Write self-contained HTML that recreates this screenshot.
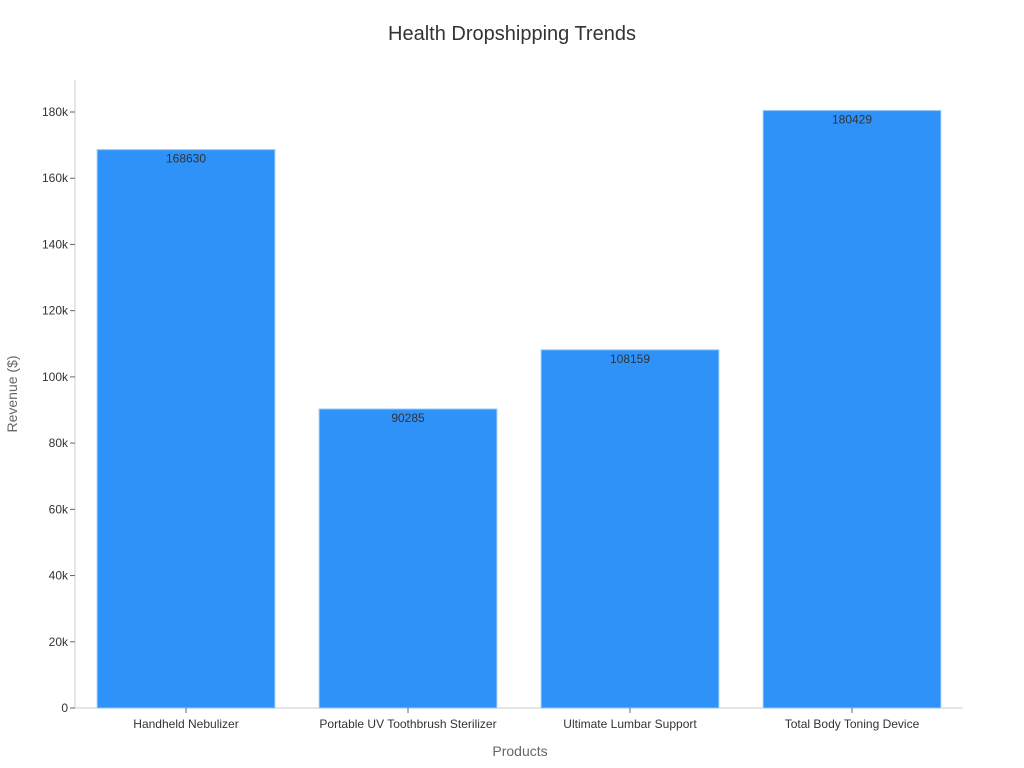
<!DOCTYPE html>
<html><head><meta charset="utf-8"><style>
html,body{margin:0;padding:0;background:#fff;}
svg{display:block;font-family:"Liberation Sans","DejaVu Sans",sans-serif;}
</style></head><body>
<svg id="chart" width="1024" height="768">
<text x="512" y="40" text-anchor="middle" font-size="20" fill="#333">Health Dropshipping Trends</text>
<text x="520" y="756" text-anchor="middle" font-size="14" fill="#666">Products</text>
<text x="17" y="394" text-anchor="middle" font-size="14" fill="#666" transform="rotate(-90 17 394)">Revenue ($)</text>
<g id="plot"></g>
</svg>
<script>
const categories=["Handheld Nebulizer","Portable UV Toothbrush Sterilizer","Ultimate Lumbar Support","Total Body Toning Device"];
const revenue=[168630,90285,108159,180429];
const yTicks=[0,20000,40000,60000,80000,100000,120000,140000,160000,180000];
const yTickLabels=["0","20k","40k","60k","80k","100k","120k","140k","160k","180k"];

const L=75,R=963,B=708,T=80;
const yScale=v=>B-v*(708-112)/180000;
const band=(R-L)/categories.length;
const xScale=i=>L+band*i;
const ns="http://www.w3.org/2000/svg";
const g=document.getElementById("plot");
function mk(tag,attrs){const e=document.createElementNS(ns,tag);for(const k in attrs)e.setAttribute(k,attrs[k]);g.appendChild(e);return e;}

let ax=mk("line",{x1:L,y1:T,x2:L,y2:B,stroke:"#ccc"});


let bx=mk("line",{x1:L,y1:B,x2:R,y2:B,stroke:"#ccc"});



yTicks.forEach((v,i)=>{
  const y=yScale(v);
  const t=mk("line",{x1:L-5,y1:y,x2:L,y2:y,stroke:"#666"});
  
  
  const lb=mk("text",{x:L-7,y:y+4,"text-anchor":"end","font-size":12,fill:"#333"});
  lb.textContent=yTickLabels[i];
  
  
});

categories.forEach((c,i)=>{
  const x0=xScale(i)+band*0.1,w=band*0.8,cx=xScale(i)+band/2;
  const y=yScale(revenue[i]);
  const r=mk("rect",{x:x0,y:y,width:w,height:B-y,fill:"#2f92f8",stroke:"#8cc4fb","stroke-width":1});
  
  
  const v=mk("text",{x:cx,y:y+13,"text-anchor":"middle","font-size":12,fill:"#333"});
  v.textContent=String(revenue[i]);
  
  
  const t=mk("line",{x1:cx,y1:B,x2:cx,y2:B+5,stroke:"#666"});
  
  
  const lb=mk("text",{x:cx,y:B+20,"text-anchor":"middle","font-size":12,fill:"#333"});
  lb.textContent=c;
  
  
});
</script>
</body></html>
